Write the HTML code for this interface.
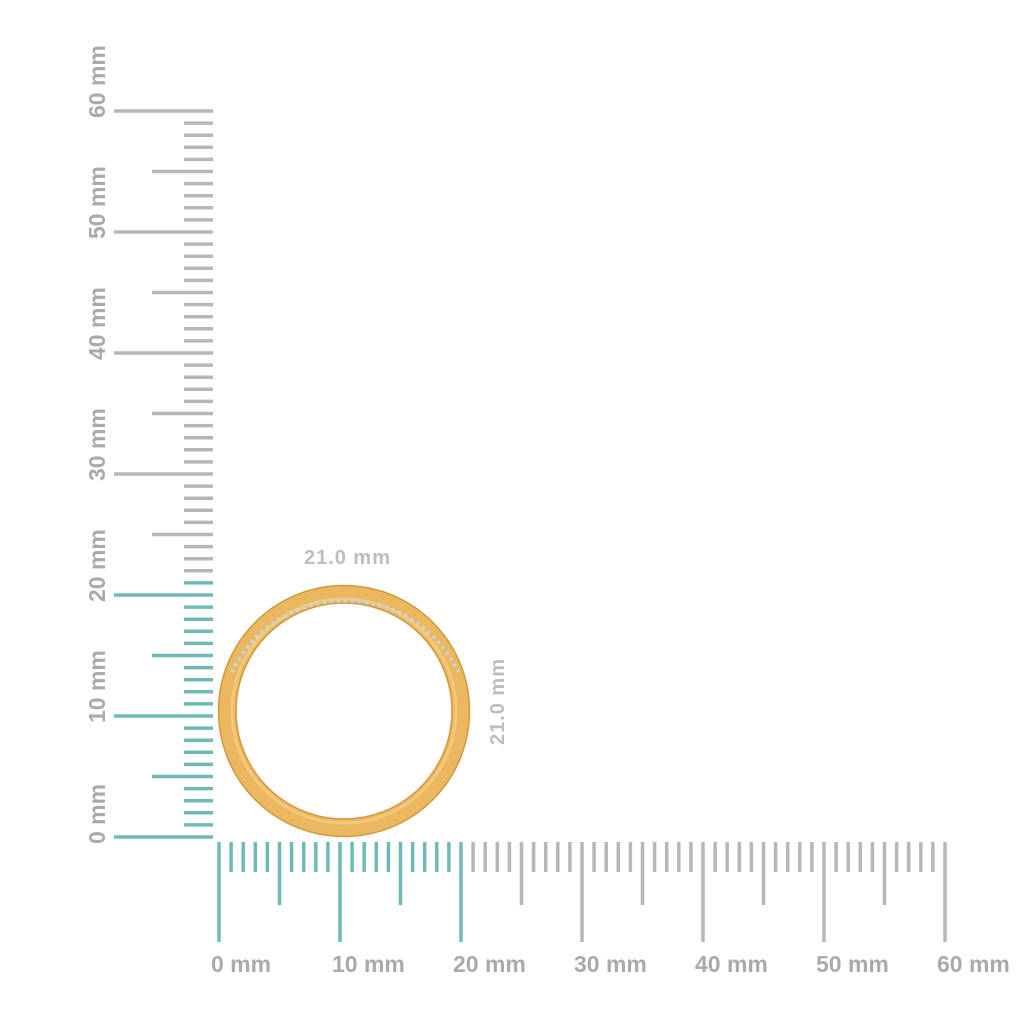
<!DOCTYPE html>
<html><head><style>body{margin:0;background:#fff}svg{display:block}</style></head>
<body>
<svg width="1024" height="1024" viewBox="0 0 1024 1024" xmlns="http://www.w3.org/2000/svg">
<g id="ticks"></g>
<!-- ring -->
<circle cx="344" cy="711" r="117" fill="none" stroke="#ebb75f" stroke-width="18"/>
<circle cx="344" cy="711" r="125.5" fill="none" stroke="#d29a3e" stroke-width="1.5"/>
<circle cx="344" cy="711" r="108" fill="none" stroke="#d29a3e" stroke-width="1.5"/>
<circle cx="344" cy="711" r="112" fill="none" stroke="#f6d28a" stroke-width="3" opacity="0.7"/>
<path d="M232,672 A125,125 0 0,1 458,672" fill="none" stroke="#c9d2e0" stroke-width="4" stroke-dasharray="3 4"/>
<g font-family="Liberation Sans, sans-serif" font-weight="bold" font-size="20" fill="#bdbdbd">
<text x="304" y="564" textLength="86">21.0 mm</text>
<text transform="translate(504,745) rotate(-90)" textLength="86">21.0 mm</text>
</g>
<script>
(function(){
var ns="http://www.w3.org/2000/svg",g=document.getElementById("ticks");
var teal="#6fbab6",gray="#b7b7b7",s=12.1;
function ln(x1,y1,x2,y2,c){var l=document.createElementNS(ns,"line");l.setAttribute("x1",x1);l.setAttribute("y1",y1);l.setAttribute("x2",x2);l.setAttribute("y2",y2);l.setAttribute("stroke",c);l.setAttribute("stroke-width",3.5);g.appendChild(l);}
function tx(x,y,t,r){var e=document.createElementNS(ns,"text");e.setAttribute("font-family","Liberation Sans, sans-serif");e.setAttribute("font-weight","bold");e.setAttribute("font-size","23");e.setAttribute("fill","#aaaaaa");if(r){e.setAttribute("transform","translate("+x+","+y+") rotate(-90)");}else{e.setAttribute("x",x);e.setAttribute("y",y);}e.textContent=t;g.appendChild(e);}
for(var i=0;i<=60;i++){
 var y=837-i*s, c=i<=21?teal:gray;
 var x1=i%10==0?114:(i%5==0?152:184);
 ln(x1,y,213,y,c);
 var x=219+i*s, c2=i<=20?teal:gray;
 var y2=i%10==0?942:(i%5==0?905:872);
 ln(x,842,x,y2,c2);
 if(i%10==0){tx(105,y+7,i+" mm",true);tx(x-8,972,i+" mm",false);}
}
})();
</script>
</svg>
</body></html>
